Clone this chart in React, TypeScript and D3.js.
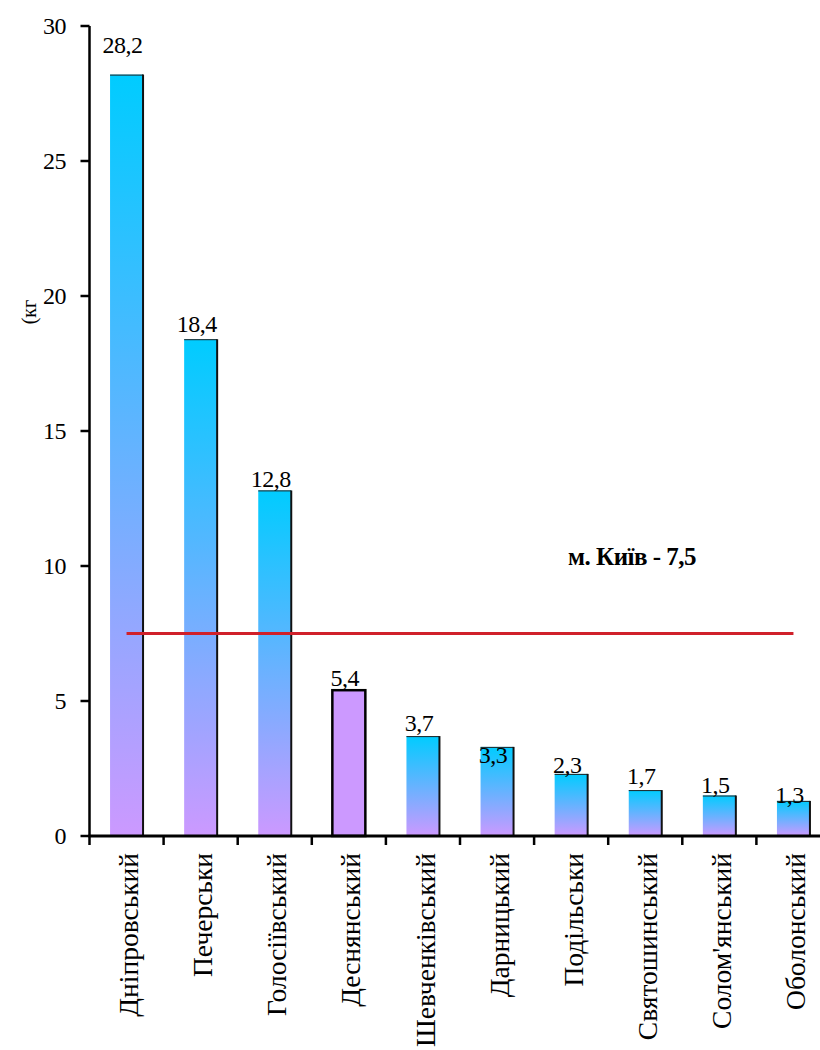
import React from "react";
import * as d3 from "d3";

const categories = [
  "Дніпровський",
  "Печерськи",
  "Голосіївський",
  "Деснянський",
  "Шевченківський",
  "Дарницький",
  "Подільськи",
  "Святошинський",
  "Солом'янський",
  "Оболонський",
];
const values = [28.2, 18.4, 12.8, 5.4, 3.7, 3.3, 2.3, 1.7, 1.5, 1.3];
const valueLabels = ["28,2", "18,4", "12,8", "5,4", "3,7", "3,3", "2,3", "1,7", "1,5", "1,3"];
const highlighted = "Деснянський";
const cityAverage = 7.5;
const cityLabel = "м. Київ - 7,5";
const yTicks = [0, 5, 10, 15, 20, 25, 30];
const yLabel = "(кг";

// layout-only: vertical nudge of each value label's baseline relative to its bar top (px)
const labelNudge = [-22, -7, -3, -4, -5, 16, -1, -6, -3, 2];

const W = 820;
const H = 1050;
const X0 = 89.5;
const STEP = 74.1;
const SERIF = "'Liberation Serif', 'DejaVu Serif', serif";

export default function App() {
  const x = d3
    .scaleBand<string>()
    .domain(categories)
    .range([X0, X0 + STEP * categories.length])
    .padding(0);
  const y = d3.scaleLinear().domain([0, 30]).range([836, 26]);
  const bw = x.bandwidth();
  const barW = 33;

  const tickXs = categories.map((c) => x(c) as number);

  return (
    <div style={{ position: "absolute", left: 0, top: 0 }}>
      <svg width={W} height={H} style={{ display: "block", background: "#fff", fontFamily: SERIF }}>
        <defs>
          <linearGradient id="barGrad" x1="0" y1="0" x2="0" y2="1">
            <stop offset="0" stopColor="#00CCFF" />
            <stop offset="1" stopColor="#CC99FF" />
          </linearGradient>
        </defs>

        {categories.map((c, i) => {
          const cx = (x(c) as number) + bw / 2;
          const left = cx - barW / 2;
          const top = y(values[i]);
          const h = y(0) - top;
          if (c === highlighted) {
            return (
              <rect key={c} x={left} y={top} width={barW} height={h} fill="#CC99FF" stroke="#000" strokeWidth={2.5} />
            );
          }
          return (
            <g key={c}>
              <rect x={left} y={top} width={barW} height={h} fill="url(#barGrad)" />
              <line x1={left} x2={left + barW} y1={top + 0.5} y2={top + 0.5} stroke="#222" strokeWidth={1} />
              <line x1={left + barW} x2={left + barW} y1={top} y2={y(0)} stroke="#111" strokeWidth={2} />
            </g>
          );
        })}

        {categories.map((c, i) => {
          const cx = (x(c) as number) + bw / 2 - 4;
          return (
            <text
              key={"v" + c}
              x={cx}
              y={y(values[i]) + labelNudge[i]}
              textAnchor="middle"
              style={{ fontFamily: SERIF }}
              fontSize={24}
              letterSpacing={-0.5}
              fill="#000"
            >
              {valueLabels[i]}
            </text>
          );
        })}

        <line
          x1={(x(categories[0]) as number) + bw / 2}
          x2={(x(categories[categories.length - 1]) as number) + bw / 2}
          y1={y(cityAverage)}
          y2={y(cityAverage)}
          stroke="#D0202A"
          strokeWidth={3}
        />
        <text x={568} y={565} style={{ fontFamily: SERIF }} fontWeight="bold" fontSize={25} letterSpacing={-0.5} fill="#000">
          {cityLabel}
        </text>

        <line x1={X0} x2={X0} y1={y(30)} y2={y(0)} stroke="#000" strokeWidth={2.5} />
        {yTicks.map((t) => (
          <g key={"yt" + t}>
            <line x1={X0 - 9} x2={X0} y1={y(t)} y2={y(t)} stroke="#000" strokeWidth={2.5} />
            <text
              x={66}
              y={y(t)}
              dy="0.35em"
              textAnchor="end"
              style={{ fontFamily: SERIF }}
              fontSize={24}
              letterSpacing={-0.5}
              fill="#000"
            >
              {t}
            </text>
          </g>
        ))}
        <text
          transform={`translate(36, 312) rotate(-90)`}
          textAnchor="middle"
          style={{ fontFamily: SERIF }}
          fontSize={20}
          fill="#000"
        >
          {yLabel}
        </text>

        <line x1={X0 - 1} x2={W} y1={y(0)} y2={y(0)} stroke="#000" strokeWidth={3} />
        {tickXs.map((tx, i) => (
          <line key={"xt" + i} x1={tx} x2={tx} y1={y(0)} y2={y(0) + 9} stroke="#000" strokeWidth={2.5} />
        ))}
        {categories.map((c) => {
          const cx = (x(c) as number) + bw / 2 + 2;
          return (
            <text
              key={"xl" + c}
              transform={`translate(${cx}, 853) rotate(-90)`}
              dy="0.35em"
              textAnchor="end"
              style={{ fontFamily: SERIF }}
              fontSize={27.5}
              fill="#000"
            >
              {c}
            </text>
          );
        })}
      </svg>
    </div>
  );
}
